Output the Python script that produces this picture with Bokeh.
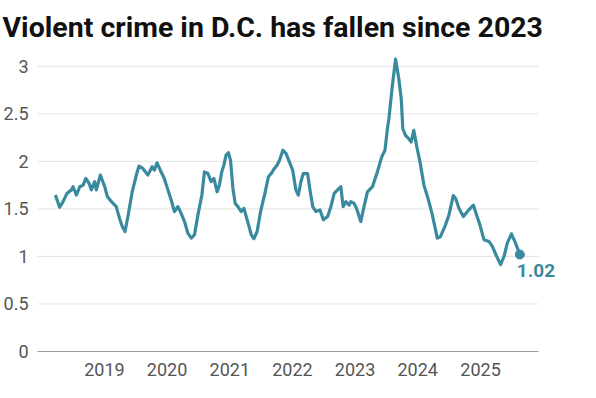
import pandas as pd
from bokeh.plotting import figure
from bokeh.models import Range1d, FixedTicker, DatetimeTickFormatter, Label, ColumnDataSource
from bokeh.embed import file_html
from bokeh.resources import INLINE

title_text = "Violent crime in D.C. has fallen since 2023"

dates = [
    "2018-03-21", "2018-04-15", "2018-05-05", "2018-05-28", "2018-06-23", "2018-07-02",
    "2018-07-22", "2018-08-10", "2018-08-30", "2018-09-14", "2018-10-04", "2018-10-17",
    "2018-11-05", "2018-11-15", "2018-12-08", "2019-01-03", "2019-01-18", "2019-02-11",
    "2019-03-11", "2019-03-30", "2019-04-15", "2019-05-01", "2019-05-18", "2019-06-12",
    "2019-07-06", "2019-07-21", "2019-08-13", "2019-09-11", "2019-10-06", "2019-10-19",
    "2019-11-04", "2019-11-27", "2019-12-16", "2020-01-06", "2020-01-25", "2020-02-13",
    "2020-03-04", "2020-03-23", "2020-04-12", "2020-05-01", "2020-05-21", "2020-06-09",
    "2020-06-29", "2020-07-22", "2020-08-06", "2020-08-26", "2020-09-14", "2020-09-30",
    "2020-10-19", "2020-11-01", "2020-11-15", "2020-11-27", "2020-12-10", "2020-12-24",
    "2021-01-05", "2021-01-19", "2021-02-01", "2021-02-17", "2021-03-08", "2021-03-24",
    "2021-04-12", "2021-05-06", "2021-05-21", "2021-06-09", "2021-06-29", "2021-07-22",
    "2021-08-14", "2021-08-30", "2021-09-18", "2021-10-03", "2021-10-17", "2021-11-06",
    "2021-11-25", "2021-12-14", "2022-01-02", "2022-01-21", "2022-02-04", "2022-02-19",
    "2022-03-05", "2022-03-30", "2022-04-13", "2022-04-29", "2022-05-18", "2022-06-10",
    "2022-06-30", "2022-07-25", "2022-08-13", "2022-09-01", "2022-09-21", "2022-10-10",
    "2022-10-23", "2022-11-08", "2022-11-27", "2022-12-07", "2022-12-26", "2023-01-09",
    "2023-02-03", "2023-02-22", "2023-03-14", "2023-04-12", "2023-05-11", "2023-06-05",
    "2023-06-24", "2023-07-08", "2023-07-17", "2023-08-06", "2023-08-25", "2023-09-13",
    "2023-09-27", "2023-10-06", "2023-10-22", "2023-11-10", "2023-11-24", "2023-12-09",
    "2023-12-25", "2024-01-14", "2024-02-06", "2024-03-01", "2024-03-26", "2024-04-24",
    "2024-05-13", "2024-06-11", "2024-07-01", "2024-07-26", "2024-08-09", "2024-08-28",
    "2024-09-23", "2024-10-25", "2024-11-20", "2024-12-09", "2024-12-28", "2025-01-21",
    "2025-02-19", "2025-03-11", "2025-04-05", "2025-04-28", "2025-05-18", "2025-06-06",
    "2025-06-30", "2025-07-24", "2025-08-18",
]

values = [
    1.646, 1.517, 1.576, 1.663, 1.70, 1.733,
    1.646, 1.733, 1.75, 1.82, 1.768, 1.70,
    1.786, 1.70, 1.856, 1.733, 1.63, 1.576,
    1.524, 1.40, 1.315, 1.262, 1.42, 1.68,
    1.856, 1.95, 1.925, 1.856, 1.943, 1.908,
    1.985, 1.89, 1.82, 1.70, 1.594, 1.472,
    1.524, 1.454, 1.367, 1.245, 1.192, 1.228,
    1.437, 1.646, 1.89, 1.872, 1.786, 1.82,
    1.68, 1.75, 1.89, 1.96, 2.065, 2.092,
    2.01, 1.715, 1.558, 1.524, 1.472, 1.506,
    1.385, 1.228, 1.186, 1.262, 1.472, 1.646,
    1.838, 1.872, 1.925, 1.96, 2.01, 2.117,
    2.082, 1.995, 1.908, 1.70, 1.646, 1.786,
    1.872, 1.872, 1.70, 1.524, 1.472, 1.49,
    1.385, 1.42, 1.524, 1.663, 1.70, 1.733,
    1.524, 1.576, 1.54, 1.576, 1.558, 1.506,
    1.367, 1.524, 1.68, 1.733, 1.89, 2.047,
    2.117, 2.34, 2.448, 2.797, 3.075, 2.866,
    2.657, 2.343, 2.274, 2.238, 2.204, 2.326,
    2.169, 1.995, 1.75, 1.61, 1.437, 1.192,
    1.21, 1.333, 1.437, 1.64, 1.61, 1.506,
    1.42, 1.49, 1.54, 1.437, 1.333, 1.176,
    1.158, 1.106, 1.0, 0.914, 1.0, 1.14,
    1.238, 1.14, 1.02,
]

year_ticks = [2019, 2020, 2021, 2022, 2023, 2024, 2025]
y_ticks = [0, 0.5, 1, 1.5, 2, 2.5, 3]
y_tick_labels = ["0", "0.5", "1", "1.5", "2", "2.5", "3"]
end_label = "1.02"

LINE = "#3a8a9f"


def ms(ts):
    return pd.Timestamp(ts).value / 10**6


x = [ms(d) for d in dates]
src = ColumnDataSource(dict(x=x, y=values))

x_start = ms("2017-12-07")   # left edge of the plotting area
x_end = ms("2026-05-17")     # extra room on the right for the end label
grid_end = ms("2025-12-04")  # where gridlines and baseline stop

p = figure(width=590, height=396, x_axis_type="datetime",
           x_range=Range1d(x_start, x_end), y_range=Range1d(0, 3.145),
           output_backend="svg", toolbar_location=None,
           min_border_left=36, min_border_right=24,
           min_border_top=50, min_border_bottom=45)
p.title.text = title_text
p.title.text_font = "Roboto"
p.title.text_font_style = "bold"
p.title.text_font_size = "28.5px"
p.title.text_color = "#111111"
p.title.align = "left"
p.title.offset = -35
p.title.standoff = 17
p.outline_line_color = None
p.background_fill_color = "white"
p.border_fill_color = "white"

p.xgrid.visible = False
p.ygrid.visible = False
grid_y = [t for t in y_ticks if t > 0]
p.segment(x0=[x_start] * len(grid_y), x1=[grid_end] * len(grid_y), y0=grid_y, y1=grid_y,
          line_color="#e3e3e3", line_width=1)

tick_ms = [ms(f"{yr}-01-01") for yr in year_ticks]
p.xaxis.ticker = FixedTicker(ticks=tick_ms)
p.xaxis.formatter = DatetimeTickFormatter(years="%Y", months="%Y", days="%Y",
                                          hours="%Y", minutes="%Y", seconds="%Y",
                                          milliseconds="%Y", microseconds="%Y")
p.xaxis.bounds = (x_start, grid_end)
p.yaxis.ticker = FixedTicker(ticks=y_ticks)
p.yaxis.major_label_overrides = {t: s for t, s in zip(y_ticks, y_tick_labels)}

for ax in (p.xaxis[0], p.yaxis[0]):
    ax.major_tick_line_color = None
    ax.minor_tick_line_color = None
    ax.major_tick_out = 0
    ax.major_tick_in = 0
    ax.minor_tick_out = 0
    ax.minor_tick_in = 0
    ax.major_label_text_font = "Roboto"
    ax.major_label_text_font_size = "18px"
    ax.major_label_text_color = "#555555"
p.xaxis.axis_line_color = "#9a9a9a"
p.xaxis.axis_line_width = 1
p.xaxis.major_label_standoff = 11
p.yaxis.axis_line_color = None
p.yaxis.major_label_standoff = 9

p.line("x", "y", source=src, line_width=3.2, line_color=LINE, line_join="round")
p.scatter(x=[x[-1]], y=[values[-1]], size=9, color=LINE)

p.add_layout(Label(x=x[-1], y=values[-1], text=end_label, x_offset=-3, y_offset=-9,
                   text_baseline="top", text_font="Roboto", text_font_style="bold",
                   text_font_size="19px", text_color=LINE))

open("out.html", "w").write(file_html(p, INLINE))
